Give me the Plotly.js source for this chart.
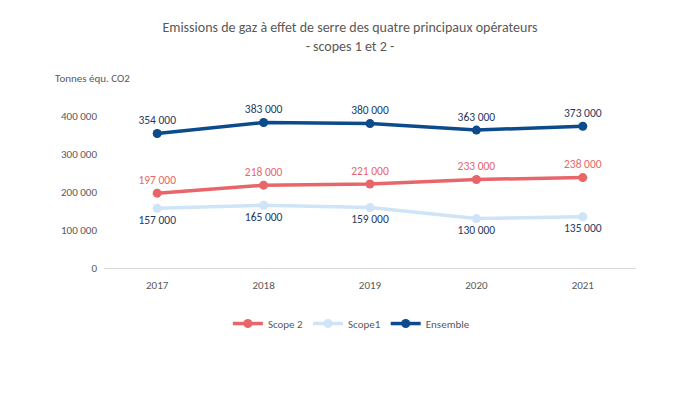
<!DOCTYPE html>
<html><head><meta charset="utf-8">
<script src="https://cdn.plot.ly/plotly-3.0.1.min.js"></script>
<style>html,body{margin:0;padding:0;background:#fff}#c{width:673px;height:406px}</style>
</head><body><div id="c"></div>
<script>
const years = ['2017','2018','2019','2020','2021'];
const scope2 = [197000, 218000, 221000, 233000, 238000];
const scope1 = [157000, 165000, 159000, 130000, 135000];
const ensemble = [354000, 383000, 380000, 363000, 373000];
const yTicks = [0, 100000, 200000, 300000, 400000];

const F = 'Carlito, Lato, "Open Sans", sans-serif';
const mk = (name, y, color, pos, txtColor) => ({
  type: 'scatter', mode: 'lines+markers+text', name: name, x: years, y: y,
  line: {color: color, width: 3.5}, marker: {color: color, size: 9},
  texttemplate: '%{y:,d}', textposition: pos,
  textfont: {family: F, size: 11.5, color: txtColor}, cliponaxis: false
});
const data = [
  mk('Scope 2', scope2, '#E8666A', 'top center', '#E8666A'),
  mk('Scope1', scope1, '#CFE4F6', 'bottom center', '#1F3A5F'),
  mk('Ensemble', ensemble, '#0B4A8B', 'top center', '#1F3A5F')
];
const layout = {
  width: 673, height: 406, separators: ', ',
  margin: {l: 104, r: 37, t: 97, b: 138},
  paper_bgcolor: '#fff', plot_bgcolor: '#fff',
  font: {family: F, size: 11, color: '#595959'},
  title: {text: 'Emissions de gaz à effet de serre des quatre principaux opérateurs<br>- scopes 1 et 2 -',
    font: {family: F, size: 14, color: '#595959'}, x: 0.52, xanchor: 'center', y: 0.92, yanchor: 'top'},
  xaxis: {type: 'category', range: [-0.5, 4.5], showgrid: false, showline: true, linecolor: '#D9D9D9', linewidth: 1,
    ticks: '', ticklabelstandoff: 7, tickfont: {family: F, size: 11, color: '#595959'}, zeroline: false, fixedrange: true},
  yaxis: {range: [0, 450000], tickvals: yTicks, tickformat: ',d', showgrid: false, zeroline: false,
    showline: false, ticks: '', ticklabelstandoff: 6, tickfont: {family: F, size: 11, color: '#595959'}},
  legend: {orientation: 'h', x: 0.465, xanchor: 'center', y: -0.24, yanchor: 'top',
    font: {family: F, size: 11, color: '#595959'}, itemwidth: 30},
  annotations: [{text: 'Tonnes équ. CO2', xref: 'paper', yref: 'paper', x: -0.095, y: 1.11,
    xanchor: 'left', yanchor: 'middle', showarrow: false, font: {family: F, size: 11, color: '#595959'}}],
  showlegend: true
};
Plotly.newPlot('c', data, layout, {displayModeBar: false, staticPlot: true});
</script></body></html>
